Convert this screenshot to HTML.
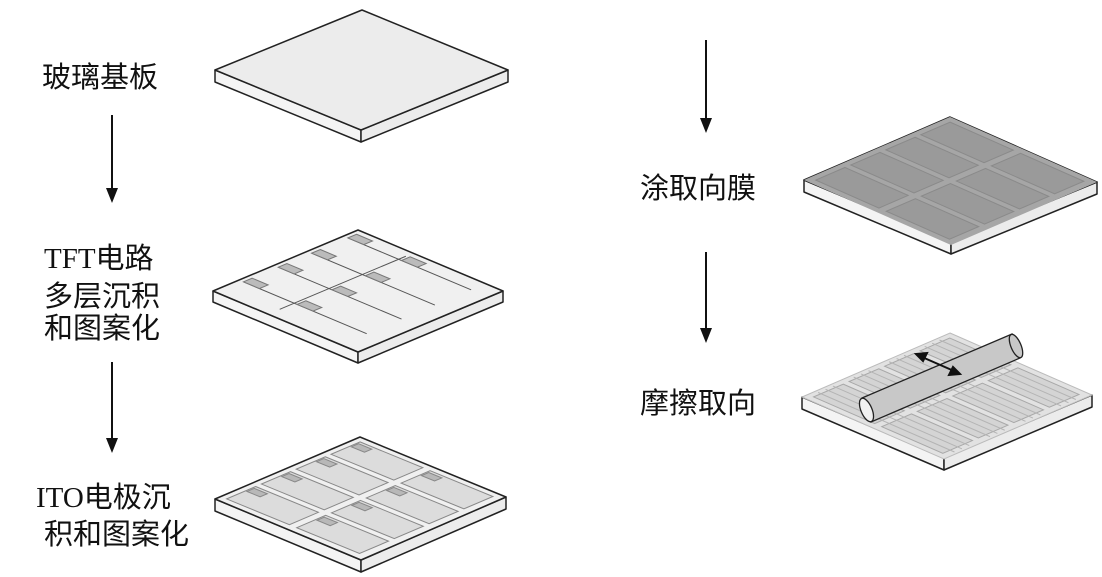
<!DOCTYPE html>
<html><head><meta charset="utf-8"><style>
html,body{margin:0;padding:0;background:#fff;}
svg{display:block}
text{font-family:"Liberation Serif","Noto Sans CJK SC",serif;font-size:29px;fill:#111}
.ns{vector-effect:non-scaling-stroke}
</style></head><body>
<svg width="1102" height="577" viewBox="0 0 1102 577" xmlns="http://www.w3.org/2000/svg">

<!-- labels -->
<text x="42" y="87">玻璃基板</text>
<text x="44" y="268">TFT电路</text>
<text x="44" y="306">多层沉积</text>
<text x="44" y="338">和图案化</text>
<text x="36" y="507">ITO电极沉</text>
<text x="44" y="544">积和图案化</text>
<text x="640" y="198">涂取向膜</text>
<text x="640" y="413">摩擦取向</text>

<!-- arrows -->
<g stroke="#111" stroke-width="2">
<line x1="112" y1="115" x2="112" y2="190"/>
<line x1="112" y1="362" x2="112" y2="440"/>
<line x1="706" y1="40" x2="706" y2="120"/>
<line x1="706" y1="252" x2="706" y2="330"/>
</g>
<g fill="#111">
<polygon points="106,188 118,188 112,203"/>
<polygon points="106,438 118,438 112,453"/>
<polygon points="700,118 712,118 706,133"/>
<polygon points="700,328 712,328 706,343"/>
</g>

<!-- Plate 1 -->
<g stroke="#222" stroke-width="1.5" stroke-linejoin="round">
<polygon points="215,70 361,130 361,142 215,82" fill="#f4f4f4"/>
<polygon points="361,130 508,70 508,82 361,142" fill="#ececec"/>
<polygon points="362,10 508,70 361,130 215,70" fill="#ececec"/>
</g>

<!-- Plate 2 -->
<g stroke="#222" stroke-width="1.5" stroke-linejoin="round">
<polygon points="213,291 358,352 358,363 213,302" fill="#f4f4f4"/>
<polygon points="358,352 503,291 503,302 358,363" fill="#ececec"/>
<polygon points="358,230 503,291 358,352 213,291" fill="#f0f0f0"/>
</g>
<g transform="matrix(1.45 0.61 -1.45 0.61 358 230)">
<g stroke="#555" stroke-width="1" fill="none">
<line class="ns" x1="3" y1="10" x2="88" y2="10"/>
<line class="ns" x1="3" y1="35" x2="88" y2="35"/>
<line class="ns" x1="3" y1="58" x2="88" y2="58"/>
<line class="ns" x1="3" y1="82" x2="88" y2="82"/>
<line class="ns" x1="38" y1="5" x2="38" y2="92"/>
</g>
<g fill="#bbb" stroke="#777" stroke-width="1">
<rect class="ns" x="3" y="4" width="11" height="6"/>
<rect class="ns" x="3" y="29" width="11" height="6"/>
<rect class="ns" x="3" y="52" width="11" height="6"/>
<rect class="ns" x="3" y="76" width="11" height="6"/>
<rect class="ns" x="40" y="4" width="11" height="6"/>
<rect class="ns" x="40" y="29" width="11" height="6"/>
<rect class="ns" x="40" y="52" width="11" height="6"/>
<rect class="ns" x="40" y="76" width="11" height="6"/>
</g>
</g>

<!-- Plate 3 -->
<g stroke="#222" stroke-width="1.5" stroke-linejoin="round">
<polygon points="215,499 361,560 361,572 215,511" fill="#f4f4f4"/>
<polygon points="361,560 506,497 506,509 361,572" fill="#ececec"/>
<polygon points="360,437 506,497 361,560 215,499" fill="#f0f0f0"/>
</g>
<g transform="matrix(1.46 0.60 -1.45 0.62 360 437)" fill="#dcdcdc" stroke="#888" stroke-width="1">
<rect class="ns" x="4" y="4" width="43" height="20"/>
<rect class="ns" x="52" y="4" width="43" height="20"/>
<rect class="ns" x="4" y="28" width="43" height="20"/>
<rect class="ns" x="52" y="28" width="43" height="20"/>
<rect class="ns" x="4" y="52" width="43" height="20"/>
<rect class="ns" x="52" y="52" width="43" height="20"/>
<rect class="ns" x="4" y="76" width="43" height="20"/>
<rect class="ns" x="52" y="76" width="43" height="20"/>
<g fill="#b8b8b8">
<rect class="ns" x="5" y="6" width="9" height="5"/>
<rect class="ns" x="53" y="6" width="9" height="5"/>
<rect class="ns" x="5" y="30" width="9" height="5"/>
<rect class="ns" x="53" y="30" width="9" height="5"/>
<rect class="ns" x="5" y="54" width="9" height="5"/>
<rect class="ns" x="53" y="54" width="9" height="5"/>
<rect class="ns" x="5" y="78" width="9" height="5"/>
<rect class="ns" x="53" y="78" width="9" height="5"/>
</g>
</g>

<!-- Plate 4 -->
<g stroke="#222" stroke-width="1.5" stroke-linejoin="round">
<polygon points="804,180 951,242 951,254 804,192" fill="#f4f4f4"/>
<polygon points="951,242 1097,182 1097,194 951,254" fill="#ececec"/>
<polygon points="950,117 1097,182 951,242 804,180" fill="#f0f0f0"/>
</g>
<g transform="matrix(1.47 0.65 -1.46 0.63 950 117)">
<rect x="0" y="0" width="100" height="100" fill="#a6a6a6"/>
<g fill="#9a9a9a" stroke="#8a8a8a" stroke-width="1">
<rect class="ns" x="4" y="4" width="43" height="20"/>
<rect class="ns" x="52" y="4" width="43" height="20"/>
<rect class="ns" x="4" y="28" width="43" height="20"/>
<rect class="ns" x="52" y="28" width="43" height="20"/>
<rect class="ns" x="4" y="52" width="43" height="20"/>
<rect class="ns" x="52" y="52" width="43" height="20"/>
<rect class="ns" x="4" y="76" width="43" height="20"/>
<rect class="ns" x="52" y="76" width="43" height="20"/>
</g>
</g>

<!-- Plate 5 -->
<g stroke="#222" stroke-width="1.5" stroke-linejoin="round">
<polygon points="802,397 944,458 944,470 802,409" fill="#f4f4f4"/>
<polygon points="944,458 1092,395 1092,407 944,470" fill="#ececec"/>
</g>
<g transform="matrix(1.42 0.62 -1.48 0.64 950 333)">
<rect class="ns" x="0" y="0" width="100" height="100" fill="#e2e2e2" stroke="#bbb" stroke-width="1"/>
<g fill="#d4d4d4" stroke="#a8a8a8" stroke-width="1">
<rect class="ns" x="4" y="4" width="43" height="20"/>
<rect class="ns" x="52" y="4" width="43" height="20"/>
<rect class="ns" x="4" y="28" width="43" height="20"/>
<rect class="ns" x="52" y="28" width="43" height="20"/>
<rect class="ns" x="4" y="52" width="43" height="20"/>
<rect class="ns" x="52" y="52" width="43" height="20"/>
<rect class="ns" x="4" y="76" width="43" height="20"/>
<rect class="ns" x="52" y="76" width="43" height="20"/>
</g>
<g fill="none" stroke="#b4b4b4" stroke-width="1">
<path class="ns" d="M2,9H98M2,14H98M2,19H98M2,33H98M2,38H98M2,43H98M2,57H98M2,62H98M2,67H98M2,81H98M2,86H98M2,91H98"/>
</g>
</g>
<!-- roller -->
<g stroke="#222" stroke-width="1.3">
<polygon points="862,398 1012,334 1020,358 871,422" fill="#c8c8c8"/>
<ellipse cx="1016" cy="346" rx="5" ry="12.5" transform="rotate(-23 1016 346)" fill="#c8c8c8"/>
<ellipse cx="866.5" cy="410" rx="5.5" ry="12.5" transform="rotate(-23 866.5 410)" fill="#f0f0f0"/>
</g>
<g stroke="#111" stroke-width="2" fill="#111">
<line x1="922" y1="357" x2="954" y2="371"/>
<polygon points="916,354 927,353 923,361"/>
<polygon points="960,374 949,375 953,367"/>
</g>
</svg>
</body></html>
